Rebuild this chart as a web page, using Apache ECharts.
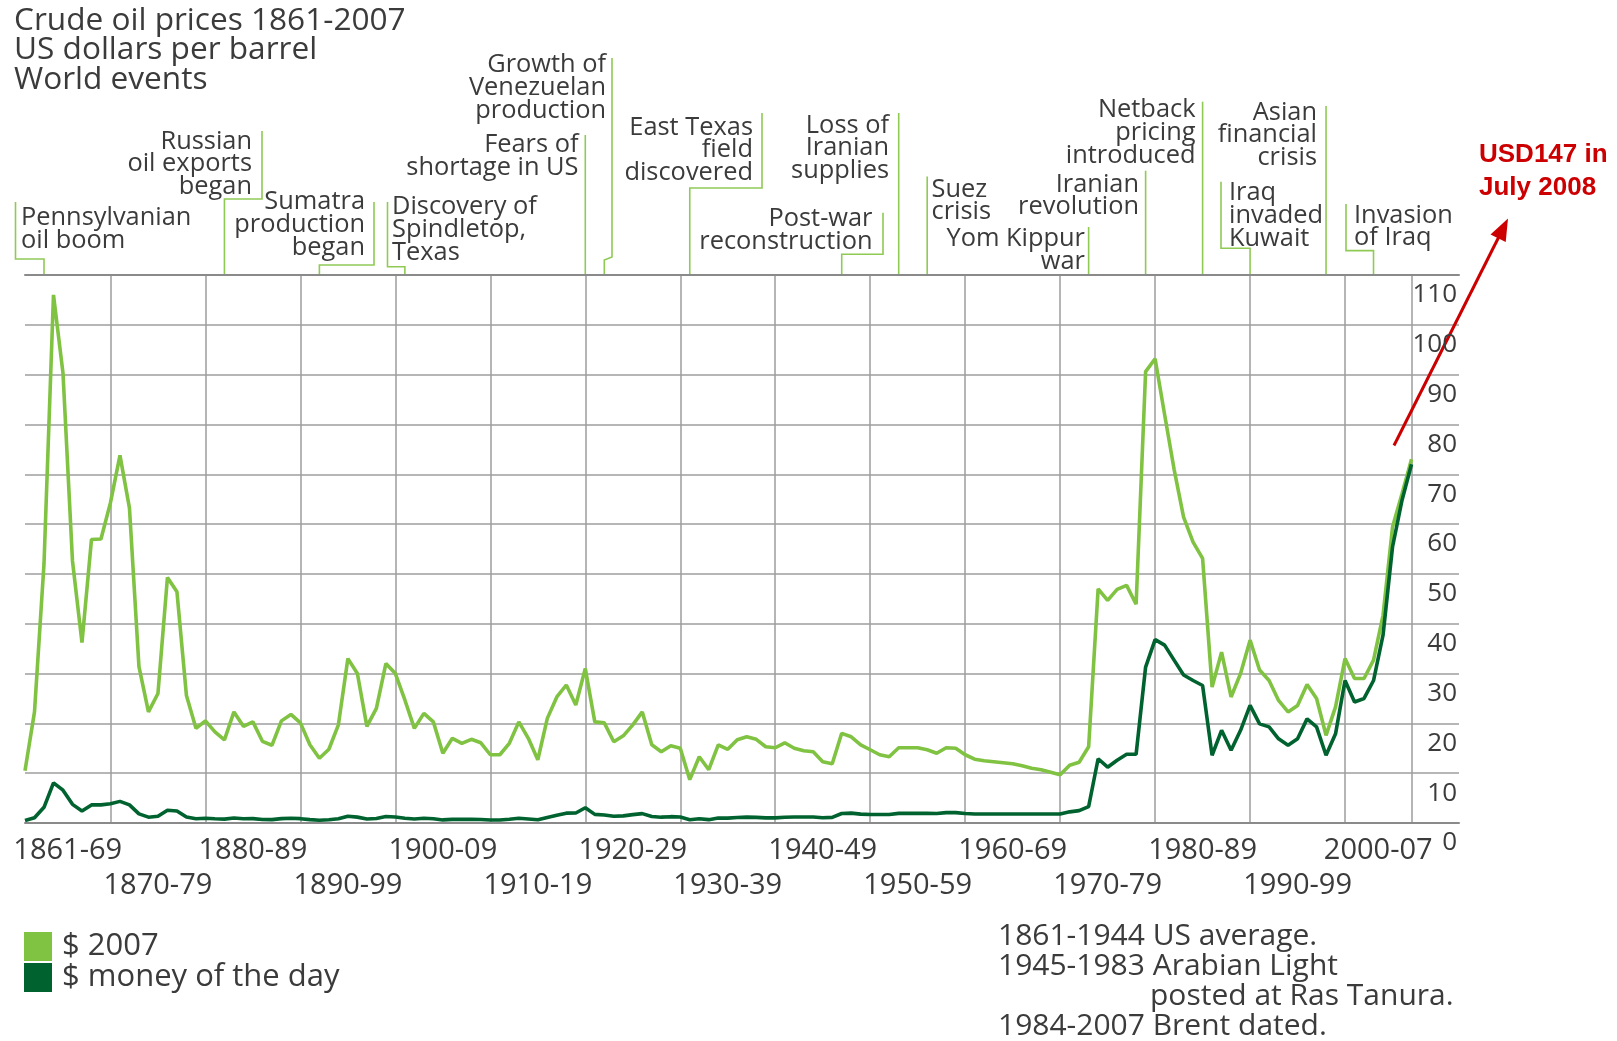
<!DOCTYPE html>
<html>
<head>
<meta charset="utf-8">
<script src="https://cdn.jsdelivr.net/npm/echarts@6/dist/echarts.min.js"></script>
<style>html,body{margin:0;padding:0;background:#fff}#c{width:1617px;height:1041px}</style>
</head>
<body>
<div id="c"></div>
<script>
// ---------------- DATA ----------------
const FIRST_YEAR = 1861;

// Crude oil price, US$ per barrel in 2007 dollars (1861..2007)
const price2007 = [
  10.5, 22.3, 52, 106, 90.3, 52.6, 36.2, 56.9, 57, 64.3,
  73.8, 63.2, 31.4, 22.3, 26, 49.3, 46.4, 25.6, 19, 20.5,
  18.3, 16.7, 22.3, 19.4, 20.3, 16.4, 15.6, 20.5, 21.8, 20.1,
  15.7, 13, 14.8, 19.7, 33, 30, 19.4, 23, 32, 30,
  24.7, 19, 22, 20.3, 14, 17, 16, 16.8, 16.1, 13.7,
  13.7, 16, 20.3, 17, 12.7, 21, 25.3, 27.7, 23.7, 31,
  20.3, 20.1, 16.3, 17.5, 19.7, 22.3, 15.7, 14.3, 15.5, 15,
  8.7, 13.3, 10.7, 15.7, 14.8, 16.7, 17.3, 16.8, 15.3, 15.1,
  16.1, 15, 14.5, 14.3, 12.3, 11.9, 18, 17.3, 15.7, 14.7,
  13.7, 13.3, 15.1, 15.1, 15.1, 14.7, 14, 15.1, 15, 13.7,
  12.8, 12.5, 12.3, 12.1, 11.9, 11.5, 11, 10.7, 10.2, 9.7,
  11.6, 12.2, 15.3, 47, 44.7, 46.9, 47.7, 43.9, 90.6, 93.2,
  82, 71, 61.4, 56.4, 53.1, 27.3, 34.3, 25.3, 30, 36.7,
  30.7, 28.6, 24.6, 22.3, 23.6, 27.8, 25, 17.6, 23.3, 33,
  29, 29, 32.7, 41.7, 59.4, 66.1, 73
];

// Crude oil price, US$ per barrel, money of the day (1861..2007)
const priceMoneyOfDay = [
  0.49, 1.05, 3.15, 8.06, 6.59, 3.74, 2.41, 3.63, 3.64, 3.86,
  4.34, 3.64, 1.83, 1.17, 1.35, 2.56, 2.42, 1.19, 0.86, 0.95,
  0.86, 0.78, 1.00, 0.84, 0.88, 0.71, 0.67, 0.88, 0.94, 0.87,
  0.67, 0.56, 0.64, 0.84, 1.36, 1.18, 0.79, 0.91, 1.29, 1.19,
  0.96, 0.80, 0.94, 0.86, 0.62, 0.73, 0.72, 0.72, 0.70, 0.61,
  0.61, 0.74, 0.95, 0.81, 0.64, 1.10, 1.56, 1.98, 2.01, 3.07,
  1.73, 1.61, 1.34, 1.43, 1.68, 1.88, 1.30, 1.17, 1.27, 1.19,
  0.65, 0.87, 0.67, 1.00, 0.97, 1.09, 1.18, 1.13, 1.02, 1.02,
  1.14, 1.19, 1.20, 1.21, 1.05, 1.12, 1.90, 1.99, 1.78, 1.71,
  1.71, 1.71, 1.93, 1.93, 1.93, 1.93, 1.90, 2.08, 2.08, 1.90,
  1.80, 1.80, 1.80, 1.80, 1.80, 1.80, 1.80, 1.80, 1.80, 1.80,
  2.24, 2.48, 3.29, 12.9, 11.2, 12.6, 13.8, 13.8, 31.3, 36.8,
  35.7, 32.7, 29.7, 28.6, 27.6, 13.6, 18.6, 14.6, 18.6, 23.6,
  19.9, 19.3, 16.9, 15.6, 16.9, 20.9, 19.3, 13.6, 17.9, 28.6,
  24.3, 25.0, 28.6, 37.7, 55.4, 64.8, 72.0
];

const seriesNames = ['$ 2007', '$ money of the day'];

// x-axis tick labels (two staggered rows) and the years they are centred on
const decadeLabelsRow1 = ['1861-69', '1880-89', '1900-09', '1920-29', '1940-49', '1960-69', '1980-89', '2000-07'];
const decadeLabelYearsRow1 = [1865.5, 1885, 1905, 1925, 1945, 1965, 1985, 2003.5];
const decadeLabelsRow2 = ['1870-79', '1890-99', '1910-19', '1930-39', '1950-59', '1970-79', '1990-99'];
const decadeLabelYearsRow2 = [1875, 1895, 1915, 1935, 1955, 1975, 1995];
const gridYears = [1870, 1880, 1890, 1900, 1910, 1920, 1930, 1940, 1950, 1960, 1970, 1980, 1990, 2000, 2007];

const titleLines = ['Crude oil prices 1861-2007', 'US dollars per barrel', 'World events'];
const footnoteLines = ['1861-1944 US average.', '1945-1983 Arabian Light', 'posted at Ras Tanura.', '1984-2007 Brent dated.'];
const calloutLines = ['USD147 in', 'July 2008'];

// World events and the year each leader line points at
const eventLabels = [
  ['Pennsylvanian', 'oil boom'],
  ['Russian', 'oil exports', 'began'],
  ['Sumatra', 'production', 'began'],
  ['Discovery of', 'Spindletop,', 'Texas'],
  ['Fears of', 'shortage in US'],
  ['Growth of', 'Venezuelan', 'production'],
  ['East Texas', 'field', 'discovered'],
  ['Post-war', 'reconstruction'],
  ['Loss of', 'Iranian', 'supplies'],
  ['Suez', 'crisis'],
  ['Yom Kippur', 'war'],
  ['Iranian', 'revolution'],
  ['Netback', 'pricing', 'introduced'],
  ['Iraq', 'invaded', 'Kuwait'],
  ['Asian', 'financial', 'crisis'],
  ['Invasion', 'of Iraq']
];
const eventYears = [1863, 1882, 1892, 1901, 1920, 1922, 1931, 1947, 1953, 1956, 1973, 1979, 1985, 1990, 1998, 2003];

// ---------------- LAYOUT / STYLE ----------------
const FONT = '"Open Sans", "Liberation Sans", Arial, sans-serif';
const BOLD_FONT = '"Liberation Sans", Arial, Helvetica, sans-serif';
const TXT = '#3b3b3b';
const LIGHT = '#80c242';
const DARK = '#00622f';
const LEADER = '#8fca55';
const RED = '#cc0000';

// text anchor x, first-line centre y, alignment; leader: top x (null = straight), top y, jog y
const eventLayout = [
  {x: 21,   y: 217.6, align: 'left',  lx: 15.5, top: 202,   jog: 259},
  {x: 252,  y: 141.3, align: 'right', lx: 262,  top: 131,   jog: 199},
  {x: 365,  y: 202,   align: 'right', lx: 374,  top: 202,   jog: 265},
  {x: 392,  y: 207,   align: 'left',  lx: 387.5,top: 202,   jog: 266.7},
  {x: 578.5,y: 144.7, align: 'right', lx: null, top: 135},
  {x: 606,  y: 65,    align: 'right', lx: 612,  top: 58,    jog: 257, slant: true},
  {x: 753,  y: 127.5, align: 'right', lx: 762,  top: 113,   jog: 188},
  {x: 872.5,y: 219,   align: 'right', lx: 883,  top: 212.7, jog: 254.3},
  {x: 889,  y: 125.5, align: 'right', lx: null, top: 113},
  {x: 931.5,y: 189.3, align: 'left',  lx: null, top: 176.5},
  {x: 1085, y: 239,   align: 'right', lx: null, top: 227},
  {x: 1139, y: 184.5, align: 'right', lx: null, top: 170.7},
  {x: 1195.5,y: 110,  align: 'right', lx: null, top: 101.7},
  {x: 1229, y: 193,   align: 'left',  lx: 1221, top: 181.7, jog: 248.3},
  {x: 1317, y: 112.5, align: 'right', lx: null, top: 106},
  {x: 1354, y: 215.5, align: 'left',  lx: 1346, top: 204,   jog: 250.6}
];
const EVENT_LH = 22.7;

const toPairs = arr => arr.map((v, i) => [FIRST_YEAR + i, v]);
const pick = (years, labels) => v => {
  const i = years.findIndex(p => Math.abs(p - v) < 0.01);
  return i >= 0 ? labels[i] : '';
};

const chart = echarts.init(document.getElementById('c'), null, {renderer: 'canvas'});

const axisFont = {fontFamily: FONT, color: TXT, fontSize: 29};

const option = {
  animation: false,
  backgroundColor: '#ffffff',
  textStyle: {fontFamily: FONT},
  grid: {left: 25, right: 158, top: 275, bottom: 218, containLabel: false, outerBoundsMode: 'none'},
  xAxis: [
    {
      type: 'value', position: 'bottom', min: 1861, max: 2012,
      axisLine: {show: true, lineStyle: {color: '#8a8a8a', width: 2}},
      axisTick: {show: false, customValues: gridYears},
      splitLine: {show: true, lineStyle: {color: '#9c9c9c', width: 1.5}},
      axisLabel: Object.assign({customValues: decadeLabelYearsRow1, margin: 13,
        formatter: pick(decadeLabelYearsRow1, decadeLabelsRow1)}, axisFont)
    },
    {
      type: 'value', position: 'bottom', min: 1861, max: 2012,
      axisLine: {show: false}, axisTick: {show: false}, splitLine: {show: false},
      axisLabel: Object.assign({customValues: decadeLabelYearsRow2, margin: 48,
        formatter: pick(decadeLabelYearsRow2, decadeLabelsRow2)}, axisFont)
    },
    {
      type: 'value', position: 'top', min: 1861, max: 2012,
      axisLine: {show: true, lineStyle: {color: '#8a8a8a', width: 2}},
      axisTick: {show: false}, splitLine: {show: false}, axisLabel: {show: false}
    }
  ],
  yAxis: {
    type: 'value', position: 'right', min: 0, max: 110, interval: 10,
    axisLine: {show: false}, axisTick: {show: false},
    splitLine: {show: true, lineStyle: {color: '#b6b6b6', width: 2}},
    axisLabel: {inside: true, align: 'right', verticalAlign: 'top', margin: 2,
      padding: [7, 0, 0, 0], fontSize: 26, color: TXT, fontFamily: FONT}
  },
  legend: {
    orient: 'vertical', left: 24, top: 931, itemWidth: 28, itemHeight: 29, itemGap: 0,
    icon: 'rect', padding: 0, selectedMode: false, data: seriesNames,
    textStyle: {fontSize: 31, color: TXT, fontFamily: FONT, padding: [0, 0, 0, 5]}
  },
  series: [
    {
      name: seriesNames[0], type: 'line', xAxisIndex: 0, data: toPairs(price2007),
      symbol: 'none', lineStyle: {color: LIGHT, width: 3.6}, itemStyle: {color: LIGHT}, z: 3
    },
    {
      name: seriesNames[1], type: 'line', xAxisIndex: 0, data: toPairs(priceMoneyOfDay),
      symbol: 'none', lineStyle: {color: DARK, width: 3.6}, itemStyle: {color: DARK}, z: 4
    }
  ]
};

chart.setOption(option);

// ---------------- ANNOTATIONS ----------------
const px = yr => chart.convertToPixel({xAxisIndex: 0}, yr);
const plotTop = chart.convertToPixel({yAxisIndex: 0}, 110);
const graphics = [];

graphics.push({
  type: 'text', x: 14, y: 5.6, silent: true,
  style: {text: titleLines.join('\n'), font: '31.6px ' + FONT, fill: TXT, lineHeight: 29.9, verticalAlign: 'top', align: 'left'}
});

eventLabels.forEach((lines, i) => {
  const L = eventLayout[i];
  const bx = px(eventYears[i]);
  let pts;
  if (L.lx === null) {
    pts = [[bx, L.top], [bx, plotTop]];
  } else if (L.slant) {
    pts = [[L.lx, L.top], [L.lx, L.jog], [bx, L.jog + 3], [bx, plotTop]];
  } else {
    pts = [[L.lx, L.top], [L.lx, L.jog], [bx, L.jog], [bx, plotTop]];
  }
  graphics.push({type: 'polyline', silent: true, shape: {points: pts},
    style: {stroke: LEADER, lineWidth: 1.6, fill: null}});
  graphics.push({type: 'text', x: L.x, y: L.y - EVENT_LH / 2, silent: true,
    style: {text: lines.join('\n'), font: '25.4px ' + FONT, fill: TXT, lineHeight: EVENT_LH,
      align: L.align, verticalAlign: 'top'}});
});

// red callout
graphics.push({
  type: 'text', x: 1479, y: 155 - 16.5, silent: true,
  style: {text: calloutLines.join('\n'), font: 'bold 26px ' + BOLD_FONT, fill: RED, lineHeight: 33, verticalAlign: 'top', align: 'left'}
});
(function () {
  const s = [1394, 445.5], t = [1508, 218.6];
  const dx = t[0] - s[0], dy = t[1] - s[1], len = Math.hypot(dx, dy);
  const ux = dx / len, uy = dy / len, nx = -uy, ny = ux;
  const hl = 22, hw = 8.5;
  const b = [t[0] - hl * ux, t[1] - hl * uy];
  graphics.push({type: 'line', silent: true, shape: {x1: s[0], y1: s[1], x2: b[0] + ux * 2, y2: b[1] + uy * 2},
    style: {stroke: RED, lineWidth: 3}});
  graphics.push({type: 'polygon', silent: true,
    shape: {points: [t, [b[0] + hw * nx, b[1] + hw * ny], [b[0] - hw * nx, b[1] - hw * ny]]},
    style: {fill: RED}});
})();

// footnote
const footPos = [[998, 936.4], [998, 966], [1150, 996.2], [998, 1026]];
footnoteLines.forEach((t, i) => {
  graphics.push({type: 'text', x: footPos[i][0], y: footPos[i][1], silent: true,
    style: {text: t, font: '30px ' + FONT, fill: TXT, align: 'left', verticalAlign: 'middle'}});
});

chart.setOption({graphic: graphics});
</script>
</body>
</html>
